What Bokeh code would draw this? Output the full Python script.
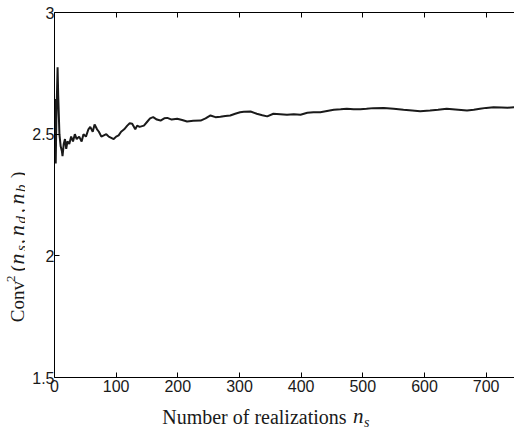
import math
from bokeh.plotting import figure
from bokeh.layouts import row, column
from bokeh.models import Range1d, FixedTicker, LinearAxis, Label
from bokeh.embed import file_html
from bokeh.resources import INLINE

# ---- data ----
n_vals = [1, 2, 3, 5, 6, 8, 10, 12, 13, 15, 17, 19, 21, 24, 27, 30, 33, 36, 40, 44,
          47, 51, 55, 58, 62, 65, 69, 72, 76, 80, 84, 88, 92, 96, 100, 104, 108, 113,
          118, 122, 126, 131, 134, 138, 145, 150, 155, 160, 166, 172, 178, 183, 190,
          199, 207, 215, 225, 237, 245, 253, 261, 269, 277, 285, 293, 301, 307, 318,
          328, 337, 345, 355, 366, 377, 388, 399, 410, 420, 431, 442, 453, 464, 474,
          485, 496, 506, 517, 534, 550, 566, 580, 593, 609, 622, 636, 650, 669, 680,
          690, 700, 712, 725, 735, 750]
conv_vals = [2.645, 2.38, 2.56, 2.775, 2.66, 2.50, 2.45, 2.43, 2.41, 2.46, 2.48, 2.44,
             2.47, 2.46, 2.49, 2.47, 2.50, 2.48, 2.49, 2.47, 2.50, 2.49, 2.52, 2.53,
             2.51, 2.54, 2.52, 2.51, 2.49, 2.495, 2.50, 2.49, 2.485, 2.48, 2.49, 2.495,
             2.51, 2.52, 2.535, 2.545, 2.543, 2.52, 2.535, 2.53, 2.535, 2.55, 2.565,
             2.57, 2.56, 2.556, 2.565, 2.567, 2.56, 2.563, 2.558, 2.552, 2.555, 2.556,
             2.565, 2.577, 2.57, 2.572, 2.575, 2.577, 2.584, 2.59, 2.592, 2.593, 2.584,
             2.578, 2.573, 2.584, 2.582, 2.58, 2.582, 2.58, 2.588, 2.59, 2.59, 2.595,
             2.600, 2.602, 2.604, 2.602, 2.602, 2.604, 2.607, 2.608, 2.604, 2.600,
             2.597, 2.594, 2.597, 2.600, 2.604, 2.601, 2.597, 2.600, 2.604, 2.608,
             2.611, 2.610, 2.609, 2.611]
x_ticks = [0, 100, 200, 300, 400, 500, 600, 700]
y_ticks = [1.5, 2, 2.5, 3]
y_tick_labels = ["1.5", "2", "2.5", "3"]
x_label_main = "Number of realizations"
x_label_var = "n"
x_label_sub = "s"
# y label pieces: text, style, role
y_label_pieces = [("Conv", "normal", "main"), ("2", "normal", "sup"), ("(", "normal", "main"),
                  ("n", "italic", "var"), ("s", "italic", "sub"), (",", "normal", "main"),
                  ("n", "italic", "var"), ("d", "italic", "sub"), (",", "normal", "main"),
                  ("n", "italic", "var"), ("b", "italic", "sub"), (")", "normal", "main")]

# ---- layout (page pixel positions) ----
W, H = 514, 430
YLAB_W = 25          # strip holding the rotated y label
XLAB_H = 30          # strip holding the x label
MAIN_W = W - YLAB_W
MAIN_H = H - XLAB_H
FRAME_LEFT = 54
FRAME_TOP = 12
FRAME_BOTTOM = 377
BASE_SHIFT = 0.28    # Bokeh's alphabetic anchor sits this many em below the glyph baseline
y_piece_start = [321.7, 281.5, 271.0, 264.0, 250.5, 243.5, 235.5, 223.0, 212.5, 204.0, 191.5, 177.5]
role_base = {"main": 22, "var": 22, "sup": 14, "sub": 24.8}
role_size = {"main": 19, "var": 22, "sup": 13, "sub": 15}

TEXT_COLOR = "#1a1a1a"
TICK_FONT = "Liberation Sans"
LABEL_FONT = "Liberation Serif"


def blank_fig(w, h):
    f = figure(width=w, height=h, output_backend="svg", toolbar_location=None,
               x_axis_type=None, y_axis_type=None, min_border=0,
               x_range=Range1d(0, 1), y_range=Range1d(0, 1))
    f.grid.visible = False
    f.outline_line_color = None
    f.background_fill_color = "white"
    f.border_fill_color = "white"
    return f


p = figure(width=MAIN_W, height=MAIN_H, output_backend="svg", toolbar_location=None,
           x_range=Range1d(0, 746), y_range=Range1d(1.5, 3),
           min_border_left=FRAME_LEFT - YLAB_W, min_border_top=FRAME_TOP,
           min_border_right=0, min_border_bottom=MAIN_H - FRAME_BOTTOM)
p.grid.visible = False
p.outline_line_color = None
p.background_fill_color = "white"
p.border_fill_color = "white"

p.line(n_vals, conv_vals, line_color="#1a1a1a", line_width=2)


def style_axis(ax, show_labels=True, standoff=3):
    ax.axis_line_color = "black"
    ax.axis_line_width = 1
    ax.major_tick_in = 5
    ax.major_tick_out = 0
    ax.major_tick_line_color = "black"
    ax.minor_tick_line_color = None
    ax.major_label_text_font = TICK_FONT
    ax.major_label_text_color = TEXT_COLOR
    ax.major_label_standoff = standoff
    if show_labels:
        ax.major_label_text_font_size = "16px"
    else:
        ax.major_label_text_font_size = "1px"
        ax.major_label_text_color = None
        ax.major_label_standoff = 0


p.xaxis.ticker = FixedTicker(ticks=x_ticks)
p.yaxis.ticker = FixedTicker(ticks=y_ticks)
p.yaxis.major_label_overrides = {t: s for t, s in zip(y_ticks, y_tick_labels)}
style_axis(p.xaxis[0], standoff=2)
style_axis(p.yaxis[0], standoff=0)

top_axis = LinearAxis(ticker=FixedTicker(ticks=x_ticks))
style_axis(top_axis, show_labels=False)
p.add_layout(top_axis, "above")

# ---- x label strip (its frame is aligned with the main frame) ----
xl = blank_fig(MAIN_W, XLAB_H)


def xlab(text, page_x, page_base, size, style):
    xl.add_layout(Label(x=page_x - FRAME_LEFT, y=H - page_base + BASE_SHIFT * size,
                        x_units="screen", y_units="screen",
                        text=text, text_font=LABEL_FONT, text_font_size=f"{size}px",
                        text_font_style=style, text_color=TEXT_COLOR,
                        text_align="left", text_baseline="alphabetic"))


xlab(x_label_main, 161.7, 421.7, 20, "normal")
xlab(x_label_var, 352.5, 421.7, 21, "italic")
xlab(x_label_sub, 363.5, 425.5, 14, "italic")

# ---- y label strip (rotated text) ----
yl = blank_fig(YLAB_W, H)
for (txt, style, role), start in zip(y_label_pieces, y_piece_start):
    size = role_size[role]
    yl.add_layout(Label(x=role_base[role] - BASE_SHIFT * size, y=H - start,
                        x_units="screen", y_units="screen", angle=math.pi / 2,
                        text=txt, text_font=LABEL_FONT, text_font_size=f"{size}px",
                        text_font_style=style, text_color=TEXT_COLOR,
                        text_align="left", text_baseline="alphabetic"))

layout = row(yl, column(p, xl, spacing=0), spacing=0)
open("out.html", "w").write(file_html(layout, INLINE))
